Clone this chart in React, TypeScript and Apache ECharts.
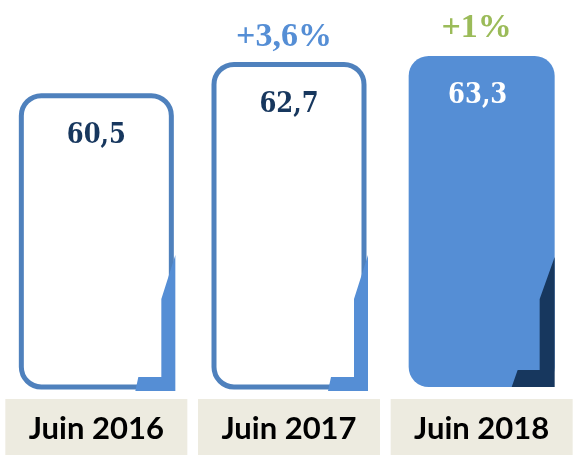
import React, { useEffect, useRef } from "react";
import * as echarts from "echarts";

const categories = ["Juin 2016", "Juin 2017", "Juin 2018"];
const values = [60.5, 62.7, 63.3];
const valueLabels = ["60,5", "62,7", "63,3"];
const growthLabels = ["", "+3,6%", "+1%"];
const growthColors = ["#558ED5", "#558ED5", "#9BBB59"];
const filled = [false, false, true];
const axisMin = 40;
const axisMax = 64;

export default function App() {
  const ref = useRef<HTMLDivElement>(null);
  useEffect(() => {
    const chart = echarts.init(ref.current!, null, { renderer: "svg" });
    chart.setOption({
      animation: false,
      grid: { left: -2, width: 590, top: 46, bottom: 56 },
      xAxis: {
        type: "category",
        data: categories,
        axisLine: { show: false },
        axisTick: { show: false },
        splitLine: { show: false },
        axisLabel: {
          margin: 12,
          color: "#000",
          fontFamily: "Lato",
          fontWeight: "bold",
          fontSize: 31,
          backgroundColor: "#EDEBE0",
          width: 182,
          height: 56,
          lineHeight: 56,
          align: "center",
          verticalAlign: "top",
          padding: 0,
        },
      },
      yAxis: { type: "value", min: axisMin, max: axisMax, show: false },
      series: [
        {
          type: "custom",
          clip: false,
          data: values.map((v, i) => [i, v]),
          encode: { x: 0, y: 1 },
          renderItem: (params: any, api: any) => {
            const i = api.value(0);
            const v = api.value(1);
            const top = api.coord([i, v]);
            const base = api.coord([i, axisMin]);
            const cx = top[0];
            const yT = top[1];
            const B = base[1];
            const isF = filled[i];
            const w = isF ? 146 : 150;
            const L = cx - w / 2;
            const R = cx + w / 2;
            const pts = isF
              ? [
                  [R, B - 130],
                  [R, B],
                  [R - 43, B],
                  [R - 37, B - 17],
                  [R - 15, B - 17],
                  [R - 15, B - 88],
                ]
              : [
                  [R + 4, B - 132],
                  [R + 4, B + 4],
                  [R - 36, B + 4],
                  [R - 33, B - 10],
                  [R - 10, B - 10],
                  [R - 10, B - 88],
                ];
            const children: any[] = [
              {
                type: "rect",
                shape: { x: L, y: yT, width: w, height: B - yT, r: 20 },
                style: isF
                  ? { fill: "#558ED5" }
                  : { fill: "#ffffff", stroke: "#4F81BD", lineWidth: 5 },
              },
              {
                type: "polygon",
                shape: { points: pts },
                style: { fill: isF ? "#17375E" : "#558ED5" },
              },
              {
                type: "text",
                style: {
                  text: valueLabels[i],
                  x: cx - (isF ? 4 : 0),
                  y: yT + 38,
                  align: "center",
                  verticalAlign: "middle",
                  fontFamily: "DejaVu Serif Condensed, DejaVu Serif",
                  fontWeight: "bold",
                  fontSize: 27,
                  fill: isF ? "#ffffff" : "#17375E",
                },
              },
            ];
            if (growthLabels[i]) {
              children.push({
                type: "text",
                style: {
                  text: growthLabels[i],
                  x: cx - 5,
                  y: yT - 30,
                  align: "center",
                  verticalAlign: "middle",
                  fontFamily: "Liberation Serif",
                  fontWeight: "bold",
                  fontSize: 34,
                  fill: growthColors[i],
                },
              });
            }
            return { type: "group", children };
          },
        },
      ],
    });
    return () => chart.dispose();
  }, []);
  return (
    <div
      ref={ref}
      style={{ position: "fixed", left: 0, top: 0, width: 578, height: 455 }}
    />
  );
}
